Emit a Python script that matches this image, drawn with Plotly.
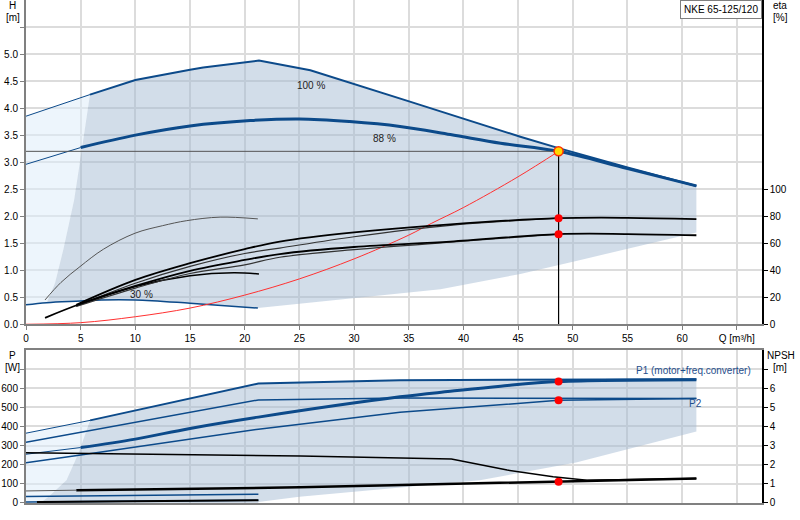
import plotly.graph_objs as go

# ---- top chart: head curves (Q in m3/h, H in m) ----
q_100 = [0, 5.85, 10, 15, 16.2, 21.3, 26, 35.1, 45.2, 48.7, 55, 61.3]
h_100 = [3.85, 4.25, 4.52, 4.71, 4.75, 4.88, 4.70, 4.12, 3.47, 3.26, 2.90, 2.56]

q_88 = [0, 5, 10, 15, 20.5, 25, 29.6, 34.2, 38.8, 43.4, 48.7, 55, 61.3]
h_88 = [2.96, 3.27, 3.50, 3.67, 3.77, 3.80, 3.75, 3.66, 3.51, 3.35, 3.20, 2.88, 2.56]

q_30 = [0, 1.9, 5, 6.9, 10, 15, 21.2]
h_30 = [0.36, 0.40, 0.43, 0.45, 0.45, 0.39, 0.30]

# system curve (red)
q_sys = [0, 5, 10, 15, 20, 25, 30, 35, 37.1, 40, 45, 48.7]
h_sys = [0, 0.03, 0.14, 0.30, 0.54, 0.84, 1.21, 1.65, 1.87, 2.16, 2.73, 3.20]

# duty point
q_duty = 48.7
h_duty = 3.20
eta_duty = [78.5, 66.7]

# operating range (shaded area) of the head chart
range_left_q = [1.9, 2.65, 3.4, 4.4, 5.1, 5.85]
range_left_h = [0.40, 0.76, 1.37, 2.3, 3.23, 4.25]
range_low_q = [61.3, 50.7, 45.2, 37.9, 23.2, 21.2]
range_low_h = [1.70, 1.19, 0.93, 0.65, 0.34, 0.30]

# efficiency curves (eta in %)
q_e1 = [4.6, 10, 15, 20, 23.2, 30, 38.8, 48.7, 55, 61.3]
eta_e1 = [14.4, 32.8, 45.2, 55.6, 61.2, 68.0, 74.0, 78.5, 78.8, 77.8]
q_e2 = [4.6, 10, 15, 20, 23.2, 30, 38.8, 48.7]
eta_e2 = [13.6, 30.4, 42.8, 52.4, 56.4, 64.8, 73.2, 78.5]
q_e3 = [1.74, 5, 10, 15, 20, 23.2, 30, 38.8, 48.7, 55, 61.3]
eta_e3 = [4.8, 15.2, 28.4, 39.6, 47.6, 52.0, 57.2, 61.2, 66.7, 66.8, 65.9]
q_e4 = [4.6, 10, 15, 20, 23.2, 30, 38.8, 48.7]
eta_e4 = [13.2, 26.8, 37.6, 44.0, 49.6, 55.2, 60.8, 66.7]
q_s1 = [1.74, 3.2, 4.94, 7.07, 9.97, 12.5, 14.7, 17.75, 21.2]
eta_s1 = [18.0, 31.0, 42.7, 55.5, 67.4, 73.0, 76.7, 79.3, 78.0]
q_s2 = [4.6, 10, 15, 19, 21.3]
eta_s2 = [13.6, 28.0, 36.0, 38.2, 37.2]

# ---- bottom chart: power (W) and NPSH (m) ----
q_p1_100 = [0, 5.86, 21.25, 34.2, 48.7, 61.3]
p_p1_100 = [365, 432, 625, 642, 645, 647]
q_p1_88 = [0, 5, 10, 15, 21.25, 34.2, 38.8, 43.4, 48.7, 61.3]
p_p1_88 = [255, 290, 334, 390, 449, 555, 584, 611, 635, 645]
q_p2_100 = [0, 5.9, 21.25, 34.2, 48.7, 61.3]
p_p2_100 = [318, 380, 539, 549, 549, 546]
q_p2_88 = [0, 5, 21.25, 34.2, 48.7, 61.3]
p_p2_88 = [211, 251, 386, 474, 537, 546]
q_p1_30 = [0, 21.25]
p_p1_30 = [34, 46]
q_p2_30 = [0, 21.25]
p_p2_30 = [5, 14]
p_duty = [635, 537]

q_npsh_a = [0, 21.25, 25.1, 38.9, 44, 48.2, 51.3, 61.3]
npsh_a = [2.63, 2.51, 2.46, 2.30, 1.72, 1.37, 1.19, 1.28]
q_npsh_b = [0, 4.6, 21.25, 25, 33.4, 48.7, 61.3]
npsh_b = [0.63, 0.67, 0.79, 0.82, 0.93, 1.105, 1.28]
q_npsh_30 = [1, 21.25]
npsh_30 = [0.05, 0.14]
npsh_duty = 1.105

# operating range of the power chart
prange_left_q = [1.3, 2.04, 3.7, 4.8, 5.86]
prange_left_p = [0, 32, 119, 260, 432]
prange_low_q = [61.3, 50.3, 41.5, 25, 21.25, 21.25]
prange_low_p = [374, 212, 119, 33, 5, 0]

x_ticks = [0, 5, 10, 15, 20, 25, 30, 35, 40, 45, 50, 55, 60, 65]
x_text = [str(v) for v in x_ticks[:-1]] + ["Q [m³/h]"]
h_ticks = [0, 0.5, 1, 1.5, 2, 2.5, 3, 3.5, 4, 4.5, 5, 5.5]
h_text = ["%.1f" % v for v in h_ticks[:-1]] + [""]
eta_ticks = [0, 20, 40, 60, 80, 100]
p_ticks = [0, 100, 200, 300, 400, 500, 600, 700]
p_text = [str(v) for v in p_ticks[:-1]] + [""]
npsh_ticks = [0, 1, 2, 3, 4, 5, 6, 7]
npsh_text = [str(v) for v in npsh_ticks[:-1]] + [""]

BLUE = '#0c4a8a'
SHADE = 'rgba(160,184,208,0.48)'
LIGHT = 'rgba(222,236,250,0.55)'

fig = go.Figure()


def line(x, y, color, width, xa='x', ya='y', shape='linear'):
    fig.add_trace(go.Scatter(x=x, y=y, mode='lines', xaxis=xa, yaxis=ya,
                             line=dict(color=color, width=width, shape=shape),
                             hoverinfo='skip', showlegend=False))


def area(x, y, color, xa='x', ya='y'):
    fig.add_trace(go.Scatter(x=x, y=y, mode='lines', xaxis=xa, yaxis=ya,
                             fill='toself', fillcolor=color, line=dict(width=0),
                             hoverinfo='skip', showlegend=False))


# ---- top chart areas ----
light_q = [0, 0, q_100[1]] + range_left_q[::-1][1:] + [0]
light_h = [h_30[0], h_100[0], h_100[1]] + range_left_h[::-1][1:] + [h_30[0]]
area(light_q, light_h, LIGHT)

dark_q = range_left_q + q_100[2:] + range_low_q + q_30[::-1][1:-1]
dark_h = range_left_h + h_100[2:] + range_low_h + h_30[::-1][1:-1]
area(dark_q, dark_h, SHADE)

# head curves
line(q_100[:2], h_100[:2], BLUE, 1)
line(q_100[1:], h_100[1:], BLUE, 2)
line(q_88[:2], h_88[:2], BLUE, 1)
line(q_88[1:], h_88[1:], BLUE, 3, shape='spline')
line(q_30, h_30, BLUE, 1.5, shape='spline')

# duty lines
line([0, q_duty], [h_duty, h_duty], '#555555', 1)
line([q_duty, q_duty], [0, h_duty], '#000000', 1.2)
line(q_sys, h_sys, '#ff3030', 1, shape='spline')

# efficiency curves
line(q_s1, eta_s1, '#555555', 1, ya='y2', shape='spline')
line(q_s2, eta_s2, '#000000', 1.5, ya='y2', shape='spline')
line(q_e2, eta_e2, '#333333', 1.2, ya='y2', shape='spline')
line(q_e4, eta_e4, '#333333', 1.2, ya='y2', shape='spline')
line(q_e1, eta_e1, '#000000', 1.8, ya='y2', shape='spline')
line(q_e3, eta_e3, '#000000', 1.8, ya='y2', shape='spline')

fig.add_trace(go.Scatter(x=[q_duty, q_duty], y=eta_duty, mode='markers', yaxis='y2',
                         marker=dict(color='#ff0000', size=8), showlegend=False, hoverinfo='skip'))
fig.add_trace(go.Scatter(x=[q_duty], y=[h_duty], mode='markers',
                         marker=dict(color='#ffd800', size=9, line=dict(color='#ff3000', width=1.5)),
                         showlegend=False, hoverinfo='skip'))

# ---- bottom chart areas ----
plight_q = [0, 0, q_p1_100[1]] + prange_left_q[::-1][1:] + [0]
plight_p = [0, p_p1_100[0], p_p1_100[1]] + prange_left_p[::-1][1:] + [0]
area(plight_q, plight_p, LIGHT, 'x2', 'y3')
pdark_q = prange_left_q + q_p1_100[2:] + prange_low_q
pdark_p = prange_left_p + p_p1_100[2:] + prange_low_p
area(pdark_q, pdark_p, SHADE, 'x2', 'y3')

line(q_p1_100[:2], p_p1_100[:2], BLUE, 1, 'x2', 'y3')
line(q_p1_100[1:], p_p1_100[1:], BLUE, 2, 'x2', 'y3')
line(q_p2_100, p_p2_100, BLUE, 1.5, 'x2', 'y3')
line(q_p1_88[:2], p_p1_88[:2], BLUE, 1, 'x2', 'y3')
line(q_p1_88[1:], p_p1_88[1:], BLUE, 3, 'x2', 'y3', shape='spline')
line(q_p2_88, p_p2_88, BLUE, 1.5, 'x2', 'y3')
line(q_p1_30, p_p1_30, BLUE, 1.5, 'x2', 'y3')
line(q_p2_30, p_p2_30, BLUE, 1.5, 'x2', 'y3')

line(q_npsh_a, npsh_a, '#000000', 1.5, 'x2', 'y4')
line(q_npsh_b[:2], npsh_b[:2], '#555555', 1, 'x2', 'y4')
line(q_npsh_b[1:], npsh_b[1:], '#000000', 2.5, 'x2', 'y4')
line(q_npsh_30, npsh_30, '#000000', 2, 'x2', 'y4')

fig.add_trace(go.Scatter(x=[q_duty, q_duty], y=p_duty, mode='markers', xaxis='x2', yaxis='y3',
                         marker=dict(color='#ff0000', size=8), showlegend=False, hoverinfo='skip'))
fig.add_trace(go.Scatter(x=[q_duty], y=[npsh_duty], mode='markers', xaxis='x2', yaxis='y4',
                         marker=dict(color='#ff0000', size=8), showlegend=False, hoverinfo='skip'))

FONT = dict(family='Liberation Sans, Arial', size=10, color='#000000')
GRID = '#dcdcdc'

xaxis_common = dict(range=[0, 67.3], tickvals=x_ticks, showgrid=True, gridcolor=GRID, gridwidth=2,
                    showline=True, linecolor='#808080', linewidth=2, mirror=True, zeroline=False,
                    tickfont=FONT, automargin=False)

fig.update_layout(
    width=800, height=520,
    margin=dict(l=26, r=38, t=0, b=17),
    plot_bgcolor='white', paper_bgcolor='white',
    font=FONT,
    xaxis=dict(xaxis_common, anchor='y', domain=[0, 1], ticktext=x_text,
               ticks='outside', ticklen=4, tickcolor='#808080'),
    yaxis=dict(domain=[0.3553, 1], range=[0, 6], tickvals=h_ticks, ticktext=h_text,
               showgrid=True, gridcolor=GRID, gridwidth=2, zeroline=False,
               showline=True, linecolor='#808080', linewidth=2, automargin=False,
               ticks='outside', ticklen=4, tickcolor='#808080', tickfont=FONT),
    yaxis2=dict(overlaying='y', side='right', anchor='x', range=[0, 240], tickvals=eta_ticks,
                showgrid=False, zeroline=False, showline=True, linecolor='#000000', linewidth=1.5,
                ticks='outside', ticklen=4, tickcolor='#000000', tickfont=FONT, automargin=False),
    xaxis2=dict(xaxis_common, anchor='y3', domain=[0, 1], showticklabels=False),
    yaxis3=dict(domain=[0, 0.3042], range=[0, 800], tickvals=p_ticks, ticktext=p_text,
                showgrid=True, gridcolor=GRID, gridwidth=2, zeroline=False,
                showline=True, linecolor='#808080', linewidth=2, automargin=False,
                ticks='outside', ticklen=4, tickcolor='#808080', tickfont=FONT),
    yaxis4=dict(overlaying='y3', side='right', anchor='x2', range=[0, 8], tickvals=npsh_ticks,
                ticktext=npsh_text, showgrid=False, zeroline=False, showline=True,
                linecolor='#000000', linewidth=1.5, ticks='outside', ticklen=4,
                tickcolor='#000000', tickfont=FONT, automargin=False),
)

annots = [
    dict(text='H', x=-0.0177, y=0.990),
    dict(text='[m]', x=-0.0177, y=0.966),
    dict(text='eta', x=1.0245, y=0.990),
    dict(text='[%]', x=1.0245, y=0.966),
    dict(text='P', x=-0.0177, y=0.2942),
    dict(text='[W]', x=-0.0177, y=0.2696),
    dict(text='NPSH', x=1.026, y=0.2942),
    dict(text='[m]', x=1.025, y=0.2696),
]
for a in annots:
    fig.add_annotation(xref='paper', yref='paper', showarrow=False, font=FONT,
                       xanchor='center', yanchor='middle', **a)

# curve labels
fig.add_annotation(x=26.1, y=4.41, xref='x', yref='y', text='100 %', showarrow=False,
                   font=dict(FONT, color='#222222'))
fig.add_annotation(x=32.8, y=3.43, xref='x', yref='y', text='88 %', showarrow=False,
                   font=dict(FONT, color='#222222'))
fig.add_annotation(x=10.6, y=0.56, xref='x', yref='y', text='30 %', showarrow=False,
                   font=dict(FONT, color='#222222'))
fig.add_annotation(x=66.5, y=693, xref='x2', yref='y3', text='P1 (motor+freq.converter)',
                   showarrow=False, xanchor='right', font=dict(FONT, color='#1f4e8c'))
fig.add_annotation(x=61.2, y=519, xref='x2', yref='y3', text='P2',
                   showarrow=False, font=dict(FONT, color='#1f4e8c'))

# product name box
fig.add_annotation(x=1, y=1, xref='paper', yref='paper', xanchor='right', yanchor='top',
                   text='NKE 65-125/120', showarrow=False, font=FONT,
                   bgcolor='white', bordercolor='#808080', borderwidth=1, borderpad=3)

# the page is photographed at 800x520, so drop the default body margin
fig.write_html("out.html", config={'displayModeBar': False},
               post_script="document.body.style.margin='0px';")
